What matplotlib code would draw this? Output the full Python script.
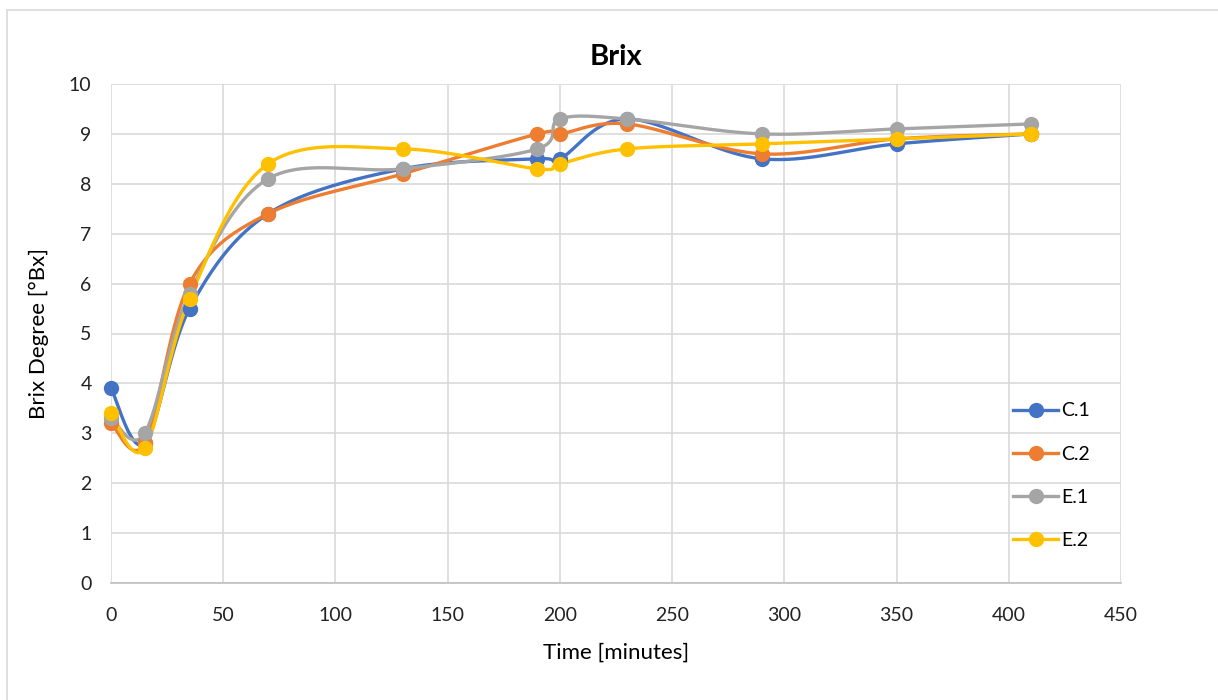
import numpy as np
import matplotlib.pyplot as plt
from matplotlib.patches import Rectangle

plt.rcParams['font.family'] = ['Lato', 'DejaVu Sans']

time_min = [0, 15, 35, 70, 130, 190, 200, 230, 290, 350, 410]
c1 = [3.9, 2.8, 5.5, 7.4, 8.3, 8.5, 8.5, 9.3, 8.5, 8.8, 9.0]
c2 = [3.2, 2.8, 6.0, 7.4, 8.2, 9.0, 9.0, 9.2, 8.6, 8.9, 9.0]
e1 = [3.3, 3.0, 5.8, 8.1, 8.3, 8.7, 9.3, 9.3, 9.0, 9.1, 9.2]
e2 = [3.4, 2.7, 5.7, 8.4, 8.7, 8.3, 8.4, 8.7, 8.8, 8.9, 9.0]

series_names = ['C.1', 'C.2', 'E.1', 'E.2']
series_colors = ['#4472c4', '#ed7d31', '#a5a5a5', '#ffc000']


def smooth_curve(xs, ys, n=40):
    # bezier segments with control points at 1/6 of the neighbour chord
    pts = np.column_stack([xs, ys]).astype(float)
    m = len(pts)
    out = []
    for i in range(m - 1):
        p0 = pts[max(i - 1, 0)]
        p1 = pts[i]
        p2 = pts[i + 1]
        p3 = pts[min(i + 2, m - 1)]
        b1 = p1 + (p2 - p0) / 6.0
        b2 = p2 - (p3 - p1) / 6.0
        t = np.linspace(0, 1, n)[:, None]
        seg = ((1 - t) ** 3) * p1 + 3 * ((1 - t) ** 2) * t * b1 \
            + 3 * (1 - t) * t ** 2 * b2 + t ** 3 * p2
        out.append(seg if i == 0 else seg[1:])
    out = np.vstack(out)
    return out[:, 0], out[:, 1]


fig = plt.figure(figsize=(12.18, 7), dpi=100)
fig.patches.append(Rectangle((7 / 1218, -0.1), 1.2, (700 - 10) / 700 + 0.1,
                             transform=fig.transFigure, fill=False,
                             edgecolor='#d9d9d9', linewidth=1.2))

ax = fig.add_axes([111 / 1218, 117 / 700, 1010 / 1218, 499 / 700])

for ys, name, color in zip([c1, c2, e1, e2], series_names, series_colors):
    sx, sy = smooth_curve(time_min, ys)
    ax.plot(sx, sy, color=color, linewidth=2.4, solid_capstyle='round',
            zorder=3, clip_on=False)
    ax.plot(time_min, ys, linestyle='none', marker='o', markersize=10,
            color=color, zorder=4, clip_on=False)
    ax.plot([], [], color=color, linewidth=2.4, marker='o', markersize=10,
            label=name)

ax.set_xlim(0, 450)
ax.set_ylim(0, 10)
ax.set_xticks(np.arange(0, 451, 50))
ax.set_yticks(np.arange(0, 11, 1))
ax.grid(True, color='#d9d9d9', linewidth=1.2, zorder=0)
ax.set_axisbelow(True)
for side in ['top', 'right', 'left']:
    ax.spines[side].set_visible(False)
ax.spines['bottom'].set_color('#bfbfbf')
ax.spines['bottom'].set_linewidth(1.2)
ax.tick_params(length=0, labelsize=14, colors='#222222')
ax.tick_params(axis='x', pad=17)
ax.tick_params(axis='y', pad=14)

ax.set_title('Brix', fontsize=21, fontweight='bold', pad=14)
ax.set_xlabel('Time [minutes]', fontsize=16, labelpad=14)
ax.set_ylabel('Brix Degree [°Bx]', fontsize=16, labelpad=14)

ax.legend(loc='center left', bbox_to_anchor=(0.876, 0.215), frameon=False,
          fontsize=14, handlelength=2.3, labelspacing=1.35, handletextpad=0.15)

fig.savefig('out.png', dpi=100)
